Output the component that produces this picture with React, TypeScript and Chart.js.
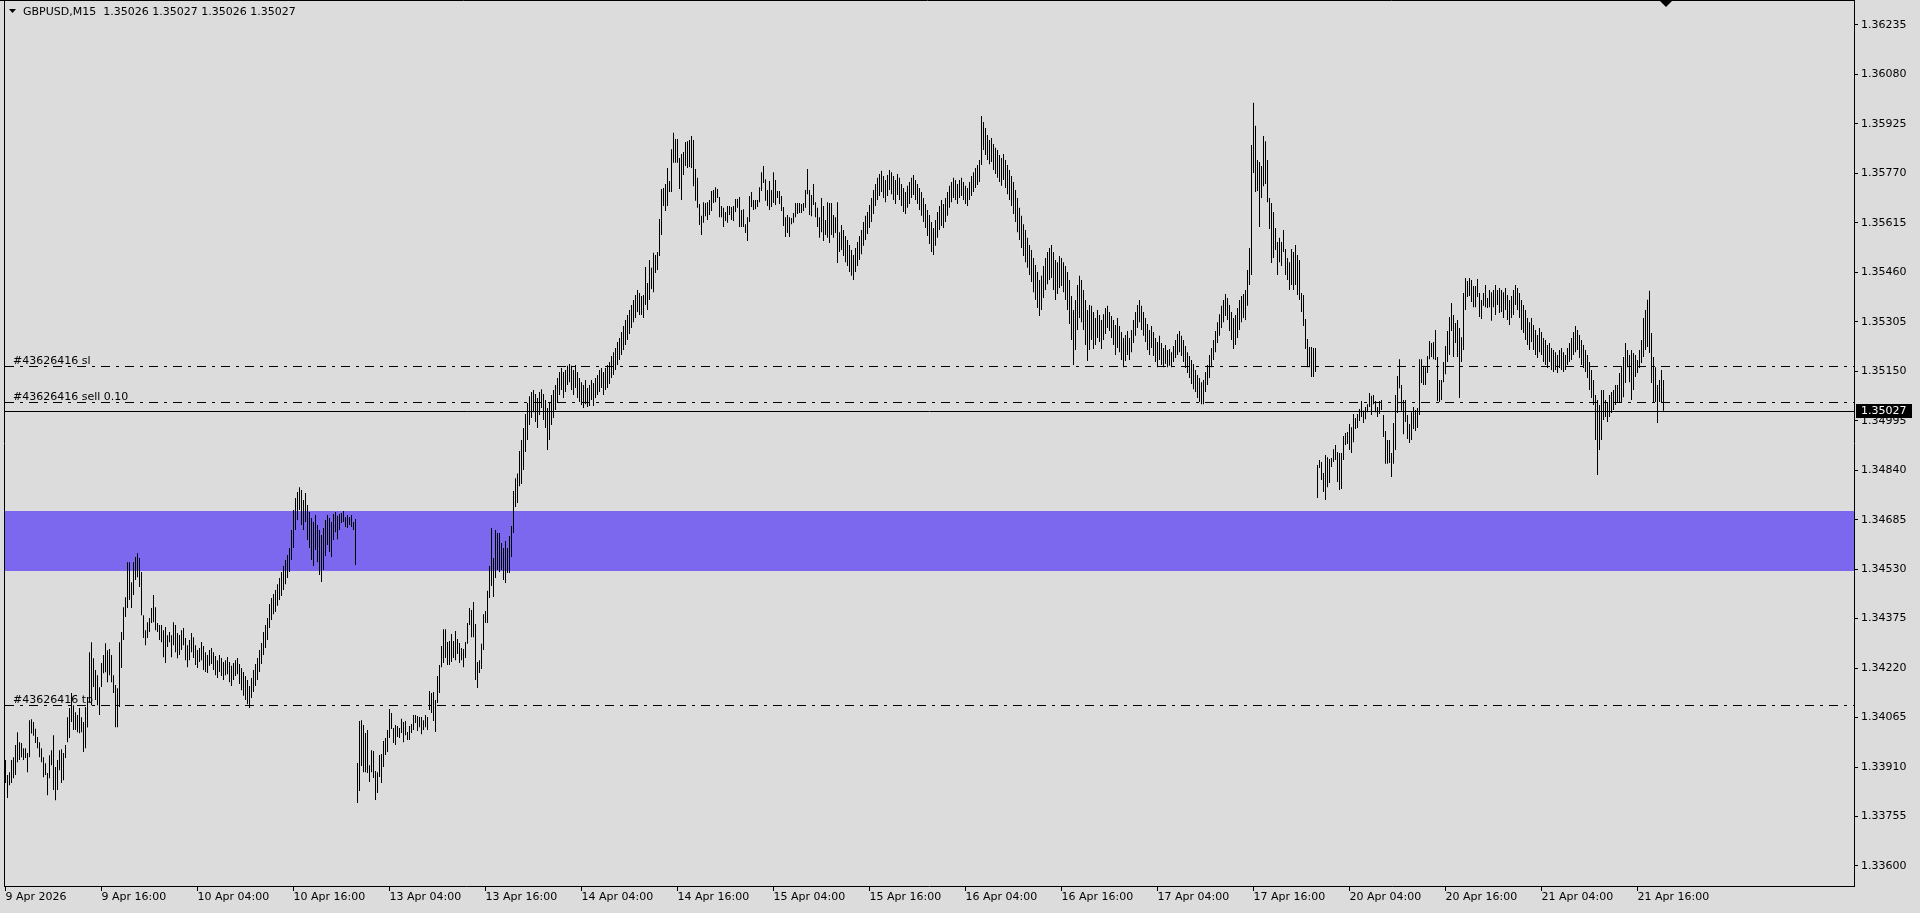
import { useEffect, useRef } from "react";
import { Chart, registerables } from "chart.js";

Chart.register(...registerables);

const FONT = '"DejaVu Sans", Verdana, sans-serif';
const BG = "#DCDCDC";
const title = "GBPUSD,M15  1.35026 1.35027 1.35026 1.35027";

// prices are stored as points above 1.33000 (1 point = 0.00001)
const priceBase = 1.33;
const pointSize = 0.00001;
const toPrice = (p: number) => +(priceBase + p * pointSize).toFixed(5);

// M15 bar highs, bar 0 = 9 Apr 2026 04:00 (weekend skipped)
const barHighPts = [
  932,885,894,932,941,979,1019,988,985,969, 969,954,1057,1060,1051,1030,1004,988,969,941,
  922,891,947,963,1010,910,932,963,966,954, 979,1066,1095,1142,1104,1082,1073,1095,1066,1051,
  1098,1120,1270,1301,1251,1214,1198,1160,1236,1261, 1298,1276,1280,1261,1198,1167,1157,1301,1333,1411,
  1442,1552,1552,1489,1552,1568,1580,1565,1521,1386, 1339,1364,1377,1408,1449,1411,1361,1355,1355,1339,
  1349,1323,1333,1323,1364,1355,1330,
  1324,1339,1346,1314,1292,1308,1330,1317,1292,1277, 1283,1302,1289,1270,1261,1277,1283,1270,1258,1245,
  1261,1252,1239,1245,1255,1239,1227,1236,1245,1252, 1233,1220,1208,1195,1183,1164,1189,1214,1233,1252,
  1277,1299,1333,1355,1377,1421,1440,1452,1465,1483, 1502,1521,1540,1559,1574,1596,1653,1715,1753,1772,
  1787,1778,1747,1769,1731,1709,1690,1678,1700,1668, 1653,1637,1659,1684,1700,1690,1678,1703,1709,1697,1703,
  1706,1712,1693,1700,1693,1700,1678,1687,923,1054, 1057,1042,1017,1026,916,963,960,898,894,948,
  951,992,1001,1026,1092,1079,1032,1042,1039,1032, 1061,1051,1054,1020,1039,1045,1073,1073,1070,1067,
  1067,1057,1073,1067,1148,1142,1145,1120,1195,1230, 1289,1342,1342,1302,1305,1327,1305,1336,1311,1299,
  1283,1280,1302,1361,1408,1402,1427,1358,1239,1245, 1296,1389,1399,1462,1540,1659,1565,1653,1643,1643,
  1612,1596,1618,1596,1634,1665,1775,1815,1830,1900,
  1935,1972,2016,2051,2072,2085,2091,2079,2066,2085, 2094,2079,2060,2035,2054,2076,2091,2107,2129,2148,
  2160,2148,2154,2167,2173,2167,2154,2170,2148,2129, 2116,2107,2123,2098,2107,2123,2113,2129,2138,2154,
  2160,2148,2160,2170,2179,2198,2210,2223,2242,2254, 2273,2292,2311,2326,2342,2358,2373,2389,2405,2395,
  2386,2389,2477,2427,2499,2474,2521,2514,2524,2627, 2721,2724,2737,2787,2746,2846,2897,2878,2878,2818,
  2831,2837,2868,2871,2875,2887,2875,2784,2756,2674, 2637,2680,2677,2680,2687,2715,2718,2727,2721,2696,
  2668,2662,2649,2668,2668,2665,2668,2690,2690,2696, 2655,2658,2611,2633,2699,2712,2687,2687,2687,2727,
  2774,2793,2752,2718,2746,2718,2774,2749,2715,2715, 2699,2665,2633,2640,2633,2630,2646,2677,2677,2677,
  2674,2677,2718,2784,2718,2702,2737,2680,2662,2633, 2693,2668,2624,2680,2677,2677,2640,2633,2680,2586,
  2608,2593,2574,2561,2546,2530,2514,2536,2555,2574, 2593,2618,2637,2649,2671,2693,2718,2737,2756,2768,
  2778,2762,2749,2765,2781,2774,2762,2749,2768,2756, 2737,2724,2712,2731,2743,2756,2765,2749,2737,2724,
  2712,2693,2674,2655,2640,2618,2599,2624,2649,2668, 2687,2674,2693,2712,2731,2743,2756,2749,2737,2749,
  2756,2743,2731,2724,2743,2762,2774,2787,2796,2812, 2950,2931,2912,2890,2875,2881,2862,2850,2843,2828,
  2818,2831,2812,2796,2781,2762,2743,2718,2693,2662, 2637,2611,2593,2568,2546,2530,2505,2483,2461,2436,
  2449,2480,2505,2524,2536,2546,2524,2499,2492,2511, 2505,2492,2480,2461,2436,2386,2342,2373,2420,2449,
  2436,2405,2373,2342,2358,2355,2336,2317,2342,2326, 2311,2329,2348,2355,2336,2323,2311,2295,2317,2292,
  2273,2254,2264,2276,2254,2279,2311,2336,2358,2373, 2355,2336,2317,2298,2279,2292,2273,2254,2242,2261,
  2239,2223,2232,2217,2220,2210,2229,2248,2267,2276, 2261,2248,2229,2210,2198,2185,2173,2154,2138,2129,
  2116,2123,2148,2170,2201,2223,2248,2276,2304,2329, 2355,2373,2392,2380,2358,2336,2317,2326,2348,2373,
  2386,2392,2405,2467,
  2536,2859,2991,2919,2812,2806,2793,2887,2871,2812, 2693,2677,2649,2599,2555,2568,2555,2593,2533,2505,
  2492,2533,2524,2546,2514,2499,2395,2389,2314,2251, 2226,2226,2223,2223,1856,1872,1866,1831,1888,1881,
  1875,1878,1906,1919,1897,1894,1894,1947,1957,1960, 1985,1975,2016,2004,2016,2032,2057,2026,2038,2047,
  2082,2073,2076,2057,2038,2057,2060,2013,1963,1935, 1935,1894,1988,2076,2135,2188,2107,2060,2060,2013,
  1985,2022,2038,2029,2035,2188,2188,2167,2163,2198, 2245,2239,2242,2279,2195,2123,2123,2179,2229,2276,
  2320,2364,2326,2301,2311,2286,2257,2395,2442,2433, 2442,2436,2417,2417,2439,2395,2373,2395,2420,2380,
  2405,2398,2405,2420,2405,2411,
  2405,2398,2411,2389,2373,2386,2405,2420,2411,2395, 2373,2358,2342,2317,2304,2317,2295,2279,2264,2286,
  2273,2254,2248,2232,2239,2223,2217,2210,2201,2217, 2223,2210,2201,2223,2239,2254,2273,2292,2279,2264,
  2248,2232,2217,2201,2179,2154,2123,2076,2060,2044, 2091,2091,2060,2054,2076,2085,2091,2107,2107,2145,
  2163,2195,2239,2217,2201,2217,2207,2201,2185,2217, 2248,2317,2342,2374,2402,2270,2195,2163,2107,2123,2154,2123,
];

// M15 bar lows, same bars
const barLowPts = [
  860,813,853,860,875,885,925,932,941,932, 938,894,941,1015,1008,985,969,941,925,878,
  885,822,875,916,838,806,838,900,860,869, 938,988,1001,1051,1026,1026,1019,1016,1019,957,
  969,1034,1113,1104,1161,1120,1104,1073,1161,1204, 1207,1176,1198,1176,1142,1035,1035,1098,1220,1308,
  1380,1408,1433,1408,1449,1496,1505,1474,1386,1314, 1292,1314,1333,1361,1364,1339,1333,1308,1301,1254,
  1236,1286,1301,1254,1292,1270,1251,
  1261,1277,1292,1245,1223,1245,1270,1252,1230,1220, 1239,1245,1214,1208,1205,1227,1233,1214,1198,1189,
  1208,1195,1183,1198,1201,1176,1164,1183,1195,1201, 1170,1151,1133,1120,1107,1095,1126,1145,1164,1183,
  1208,1233,1261,1283,1308,1346,1371,1389,1396,1415, 1433,1446,1465,1483,1502,1521,1559,1596,1653,1684,
  1715,1668,1653,1678,1621,1596,1559,1540,1590,1552, 1512,1490,1527,1571,1606,1584,1568,1621,1646,1624,1653,
  1675,1678,1662,1659,1668,1662,1653,1543,797,835, 913,894,894,891,863,894,876,807,829,879,
  860,910,948,957,1001,1029,985,979,1004,1001, 1017,988,1010,995,995,1017,1026,1048,1023,1035,
  1013,1026,1035,1026,1089,1079,1054,1020,1111,1142, 1223,1236,1252,1230,1230,1239,1252,1245,1264,1236,
  1245,1223,1252,1296,1355,1317,1317,1183,1158,1205, 1217,1277,1361,1361,1440,1477,1443,1502,1527,1521,
  1527,1496,1487,1518,1518,1568,1643,1725,1737,1790,
  1797,1841,1897,1935,1982,2004,2022,1991,1972,2013, 2035,1997,1972,1903,1935,1982,2004,2029,2054,2076,
  2091,2066,2085,2107,2116,2091,2076,2098,2066,2054, 2044,2035,2047,2038,2041,2060,2041,2066,2076,2085,
  2098,2076,2091,2098,2110,2129,2138,2154,2170,2185, 2201,2217,2232,2248,2267,2286,2304,2317,2336,2326,
  2326,2317,2358,2342,2373,2408,2398,2458,2467,2511, 2577,2668,2652,2668,2712,2712,2803,2803,2803,2721,
  2687,2765,2793,2787,2790,2787,2730,2684,2662,2608, 2577,2615,2636,2624,2640,2652,2677,2680,2693,2633,
  2633,2602,2621,2615,2640,2624,2621,2649,2662,2602, 2602,2602,2583,2558,2618,2665,2655,2658,2665,2680,
  2715,2740,2684,2668,2655,2665,2677,2671,2693,2674, 2652,2605,2571,2583,2571,2611,2615,2633,2643,2646,
  2646,2652,2662,2705,2640,2636,2671,2633,2602,2568, 2586,2558,2577,2568,2552,2577,2568,2583,2489,2524,
  2530,2511,2492,2480,2461,2449,2436,2461,2480,2499, 2517,2543,2561,2580,2599,2618,2643,2668,2687,2699,
  2712,2693,2680,2699,2718,2705,2687,2674,2702,2687, 2668,2649,2643,2662,2674,2693,2702,2687,2674,2655,
  2637,2618,2599,2574,2549,2524,2514,2543,2568,2593, 2605,2599,2618,2637,2662,2680,2693,2687,2674,2693,
  2699,2687,2674,2668,2687,2699,2712,2724,2734,2743, 2796,2843,2828,2812,2799,2806,2781,2768,2756,2743,
  2731,2749,2724,2705,2687,2668,2643,2618,2586,2561, 2536,2511,2492,2474,2452,2430,2398,2373,2348,2323,
  2342,2380,2405,2423,2436,2442,2405,2373,2392,2411, 2417,2398,2373,2342,2298,2248,2170,2217,2279,2317,
  2304,2279,2232,2182,2217,2248,2220,2232,2254,2242, 2220,2248,2267,2286,2276,2254,2232,2201,2223,2210,
  2185,2163,2182,2201,2185,2210,2239,2261,2286,2304, 2279,2261,2242,2217,2201,2223,2198,2179,2163,2185,
  2170,2163,2173,2163,2167,2163,2179,2192,2201,2210, 2198,2179,2160,2145,2129,2110,2094,2085,2066,2054,
  2047,2047,2085,2107,2129,2163,2185,2210,2239,2261, 2286,2304,2323,2311,2276,2248,2220,2232,2254,2279,
  2304,2317,2311,2355,
  2420,2452,2771,2712,2715,2602,2693,2730,2737,2680, 2596,2489,2505,2530,2452,2492,2480,2524,2452,2436,
  2405,2420,2405,2420,2389,2373,2336,2292,2220,2163, 2163,2132,2132,2148,1753,1847,1809,1772,1747,1787,
  1800,1850,1866,1872,1803,1778,1781,1872,1919,1922, 1903,1894,1928,1969,1972,1994,2007,1988,2000,2022,
  2038,2013,2047,2022,2007,2016,2029,1944,1860,1860, 1863,1819,1860,1903,2019,2097,2026,1953,1991,1938,
  1925,1935,1969,1963,1972,2013,2113,2107,2107,2145, 2188,2195,2188,2185,2057,2054,2060,2116,2141,2179,
  2201,2276,2195,2239,2195,2066,2179,2217,2342,2383, 2386,2367,2351,2351,2383,2320,2314,2355,2351,2348,
  2351,2308,2351,2326,2358,2333,
  2336,2317,2342,2311,2295,2317,2326,2358,2342,2317, 2279,2270,2248,2232,2217,2242,2217,2201,2192,2210,
  2201,2179,2170,2160,2179,2154,2148,2154,2145,2160, 2154,2148,2154,2170,2179,2185,2201,2210,2217,2192,
  2170,2160,2148,2129,2091,2066,2044,1935,1825,1903, 1935,1997,2007,1991,2007,2019,2029,2044,2054,2054,
  2054,2069,2113,2163,2116,2060,2091,2132,2145,2160, 2176,2195,2217,2226,2207,2113,2051,2054,1988,2054,2054,2026,
];

const barsPerLabel = 48;
const xTickLabels = ["9 Apr 2026", "9 Apr 16:00", "10 Apr 04:00", "10 Apr 16:00", "13 Apr 04:00", "13 Apr 16:00", "14 Apr 04:00", "14 Apr 16:00", "15 Apr 04:00", "15 Apr 16:00", "16 Apr 04:00", "16 Apr 16:00", "17 Apr 04:00", "17 Apr 16:00", "20 Apr 04:00", "20 Apr 16:00", "21 Apr 04:00", "21 Apr 16:00"];
const yTickValues = [1.36235, 1.3608, 1.35925, 1.3577, 1.35615, 1.3546, 1.35305, 1.3515, 1.34995, 1.3484, 1.34685, 1.3453, 1.34375, 1.3422, 1.34065, 1.3391, 1.33755, 1.336];

const bidPrice = 1.35027;
const orderLabels = ["#43626416 sl", "#43626416 sell 0.10", "#43626416 tp"];
const orderPrices = [1.35167, 1.35053, 1.34104];
const zoneTop = 1.34712;
const zoneBottom = 1.34525;
const zoneColor = "#7B68EE";
const shiftMarkerBar = 830;

const yMin = 1.335373;
const yMax = 1.363133;
const xMin = -0.75;
const xMax = 924.25;

const overlay = {
  id: "mtOverlay",
  beforeDraw(chart: any) {
    const { ctx, width, height } = chart;
    ctx.save();
    ctx.fillStyle = BG;
    ctx.fillRect(0, 0, width, height);
    ctx.restore();
  },
  beforeDatasetsDraw(chart: any) {
    const { ctx, chartArea: a, scales } = chart;
    const y = scales.y;
    const t = Math.round(y.getPixelForValue(zoneTop));
    const b = Math.round(y.getPixelForValue(zoneBottom));
    ctx.save();
    ctx.fillStyle = zoneColor;
    ctx.fillRect(a.left + 1, t, a.right - a.left - 1, b - t);
    ctx.restore();
  },
  afterDatasetsDraw(chart: any) {
    const { ctx, chartArea: a, scales } = chart;
    const y = scales.y;
    ctx.save();
    ctx.strokeStyle = "#000";
    ctx.lineWidth = 1;
    ctx.setLineDash([9, 6, 3, 6]);
    orderPrices.forEach((p) => {
      const py = Math.round(y.getPixelForValue(p)) + 0.5;
      ctx.beginPath();
      ctx.moveTo(a.left + 1, py);
      ctx.lineTo(a.right, py);
      ctx.stroke();
    });
    ctx.setLineDash([]);
    const by = Math.round(y.getPixelForValue(bidPrice)) + 0.5;
    ctx.beginPath();
    ctx.moveTo(a.left + 1, by);
    ctx.lineTo(a.right, by);
    ctx.stroke();
    ctx.fillStyle = "#000";
    ctx.font = `11px ${FONT}`;
    ctx.textBaseline = "alphabetic";
    ctx.textAlign = "left";
    orderPrices.forEach((p, k) => {
      const py = Math.round(y.getPixelForValue(p));
      ctx.fillText(orderLabels[k], 13, py - 2);
    });
    ctx.restore();
  },
  afterDraw(chart: any) {
    const { ctx, chartArea: a, scales } = chart;
    const y = scales.y;
    const x = scales.x;
    ctx.save();
    ctx.strokeStyle = "#000";
    ctx.lineWidth = 1;
    ctx.beginPath();
    ctx.moveTo(a.left + 0.5, 0);
    ctx.lineTo(a.left + 0.5, a.bottom + 1);
    ctx.moveTo(0, 0.5);
    ctx.lineTo(a.right + 1, 0.5);
    ctx.stroke();
    // header
    ctx.fillStyle = "#000";
    ctx.beginPath();
    ctx.moveTo(9, 9);
    ctx.lineTo(16, 9);
    ctx.lineTo(12.5, 13);
    ctx.closePath();
    ctx.fill();
    ctx.font = `11px ${FONT}`;
    ctx.textBaseline = "alphabetic";
    ctx.textAlign = "left";
    ctx.fillText(title, 23, 15);
    // shift marker
    const sx = Math.round(x.getPixelForValue(shiftMarkerBar));
    ctx.beginPath();
    ctx.moveTo(sx - 6, 1);
    ctx.lineTo(sx + 6, 1);
    ctx.lineTo(sx, 7);
    ctx.closePath();
    ctx.fill();
    // bid price box
    const by = Math.round(y.getPixelForValue(bidPrice));
    ctx.fillStyle = "#000";
    ctx.fillRect(a.right + 2, by - 7, 56, 14);
    ctx.fillStyle = "#fff";
    ctx.textBaseline = "middle";
    ctx.fillText(bidPrice.toFixed(5), a.right + 7, by + 0.5);
    ctx.restore();
  },
};

export default function App() {
  const ref = useRef<HTMLCanvasElement>(null);
  useEffect(() => {
    const canvas = ref.current;
    if (!canvas) return;
    const bars: { x: number; y: [number, number] }[] = [];
    for (let i = 0; i < barHighPts.length; i++) {
      bars.push({ x: i, y: [toPrice(barLowPts[i]), toPrice(barHighPts[i])] });
    }
    const chart = new Chart(canvas, {
      type: "bar",
      data: {
        datasets: [
          {
            data: bars as any,
            backgroundColor: "#000",
            borderWidth: 0,
            barThickness: 1,
            inflateAmount: 0,
            grouped: false,
          } as any,
        ],
      },
      options: {
        responsive: false,
        animation: false,
        devicePixelRatio: 1,
        layout: { padding: { left: 4, top: 0, right: 0, bottom: 0 } },
        plugins: { legend: { display: false }, tooltip: { enabled: false } },
        events: [],
        scales: {
          x: {
            type: "linear",
            min: xMin,
            max: xMax,
            offset: false,
            afterBuildTicks: (s: any) => {
              s.ticks = xTickLabels.map((_, k) => ({ value: k * barsPerLabel }));
            },
            afterFit: (s: any) => {
              s.height = 27;
              s.paddingLeft = 0;
              s.paddingRight = 0;
            },
            ticks: {
              callback: (_v: any, idx: number) => xTickLabels[idx],
              align: "start",
              maxRotation: 0,
              minRotation: 0,
              autoSkip: false,
              padding: 1,
              color: "#000",
              font: { family: FONT, size: 11, lineHeight: 1 },
            },
            grid: { drawOnChartArea: false, drawTicks: true, tickLength: 5, color: "#000", offset: false },
            border: { display: true, color: "#000" },
          } as any,
          y: {
            type: "linear",
            position: "right",
            min: yMin,
            max: yMax,
            afterBuildTicks: (s: any) => {
              s.ticks = yTickValues.map((v) => ({ value: v }));
            },
            afterFit: (s: any) => {
              s.width = 66;
              s.paddingTop = 0;
              s.paddingBottom = 0;
            },
            ticks: {
              callback: (v: any) => Number(v).toFixed(5),
              autoSkip: false,
              padding: 3,
              color: "#000",
              font: { family: FONT, size: 11 },
            },
            grid: { drawOnChartArea: false, drawTicks: true, tickLength: 4, color: "#000" },
            border: { display: true, color: "#000" },
          } as any,
        },
      },
      plugins: [overlay],
    });
    return () => chart.destroy();
  }, []);
  return (
    <div style={{ position: "fixed", left: 0, top: 0, width: 1920, height: 913, background: BG }}>
      <canvas ref={ref} width={1920} height={913} style={{ display: "block" }} />
    </div>
  );
}
